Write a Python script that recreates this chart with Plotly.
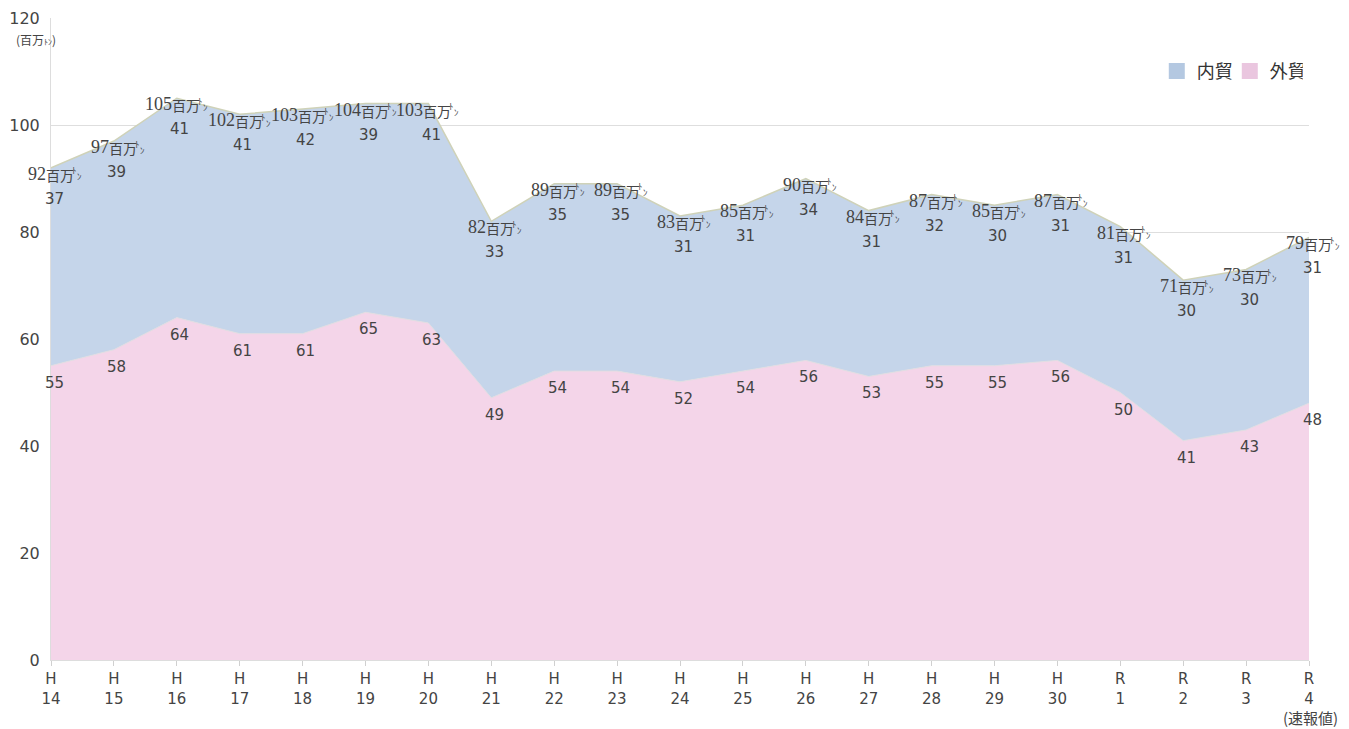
import plotly.graph_objects as go

categories = ["H<br>14","H<br>15","H<br>16","H<br>17","H<br>18","H<br>19","H<br>20","H<br>21","H<br>22","H<br>23",
              "H<br>24","H<br>25","H<br>26","H<br>27","H<br>28","H<br>29","H<br>30","R<br>1","R<br>2","R<br>3","R<br>4"]
gaibo = [55,58,64,61,61,65,63,49,54,54,52,54,56,53,55,55,56,50,41,43,48]
naibo = [37,39,41,41,42,39,41,33,35,35,31,31,34,31,32,30,31,31,30,30,31]
totals = [92,97,105,102,103,104,103,82,89,89,83,85,90,84,87,85,87,81,71,73,79]
y_ticks = [0,20,40,60,80,100,120]

x = list(range(len(categories)))
FONT = "DejaVu Sans, Noto Sans CJK JP, sans-serif"
JFONT = "Noto Sans CJK JP, sans-serif"
TXT = "#444444"

fig = go.Figure()
fig.add_trace(go.Scatter(x=x, y=gaibo, name="外貿", stackgroup="one", mode="lines", showlegend=False,
                         line=dict(color="#e2dde2", width=1), fillcolor="#f4d5e9"))
fig.add_trace(go.Scatter(x=x, y=naibo, name="内貿", stackgroup="one", mode="lines", showlegend=False,
                         line=dict(color="#cfd2b8", width=1.5), fillcolor="#c5d5ea"))
# legend entries (square swatches)
fig.add_trace(go.Scatter(x=[None], y=[None], name="内貿", mode="markers",
                         marker=dict(symbol="square", size=19, color="#b4c8e1")))
fig.add_trace(go.Scatter(x=[None], y=[None], name="外貿", mode="markers",
                         marker=dict(symbol="square", size=19, color="#eac6df")))

ann = []
for i in x:
    top = gaibo[i] + naibo[i]
    ann.append(dict(x=i, y=gaibo[i], text=str(gaibo[i]), showarrow=False, yshift=-17, xshift=3,
                    font=dict(size=15, color=TXT, family=FONT)))
    ann.append(dict(x=i, y=top, text=str(naibo[i]), showarrow=False, yshift=-31, xshift=3,
                    font=dict(size=15, color=TXT, family=FONT)))
    ann.append(dict(x=i, y=top, text=str(totals[i]), showarrow=False, yshift=-6, xshift=-3,
                    xanchor="right", font=dict(size=18, color=TXT, family="Liberation Serif")))
    ann.append(dict(x=i, y=top, text="百万", showarrow=False, yshift=-7, xshift=-7,
                    xanchor="left", font=dict(size=14, color=TXT, family=JFONT)))
    ann.append(dict(x=i, y=top, text="ﾄ", showarrow=False, yshift=-3, xshift=19,
                    xanchor="left", font=dict(size=9, color=TXT, family=JFONT)))
    ann.append(dict(x=i, y=top, text="ﾝ", showarrow=False, yshift=-9, xshift=24,
                    xanchor="left", font=dict(size=9, color=TXT, family=JFONT)))
ann.append(dict(xref="paper", yref="paper", x=-0.012, y=0.966, xanchor="center", yanchor="middle",
                text="(百万<span style='font-size:8px'>ﾄﾝ</span>)", showarrow=False,
                font=dict(size=12, color=TXT, family=JFONT)))
ann.append(dict(xref="paper", yref="paper", x=1.0245, y=-0.09, xanchor="right", yanchor="middle",
                text="(速報値)", showarrow=False, font=dict(size=15, color=TXT, family=JFONT)))

# page body has an 8px margin: figure is shrunk/shifted to compensate
fig.update_layout(
    width=1341, height=721,
    margin=dict(l=43, r=40, t=10, b=69),
    plot_bgcolor="white", paper_bgcolor="white",
    font=dict(family=FONT, color=TXT),
    showlegend=True,
    legend=dict(orientation="h", x=0.879, y=0.917, xanchor="left", yanchor="middle",
                traceorder="normal", entrywidth=28, entrywidthmode="pixels",
                font=dict(size=18, color="#333333", family=JFONT),
                itemwidth=30, bgcolor="rgba(0,0,0,0)"),
    annotations=ann,
)
fig.update_xaxes(tickmode="array", tickvals=x, ticktext=categories, range=[0, len(x)-1], automargin=False,
                 showgrid=False, showline=True, linecolor="#dddddd", ticks="outside", ticklen=5,
                 tickcolor="#d0d0d0", tickfont=dict(size=15, color=TXT, family=FONT), zeroline=False)
fig.update_yaxes(range=[0,120], tickvals=y_ticks, showgrid=True, gridcolor="#dedede", zeroline=False,
                 automargin=False, showline=True, linecolor="#dddddd", ticks="", ticklabelstandoff=7,
                 tickfont=dict(size=16, color=TXT, family=FONT))

fig.write_html("out.html")
